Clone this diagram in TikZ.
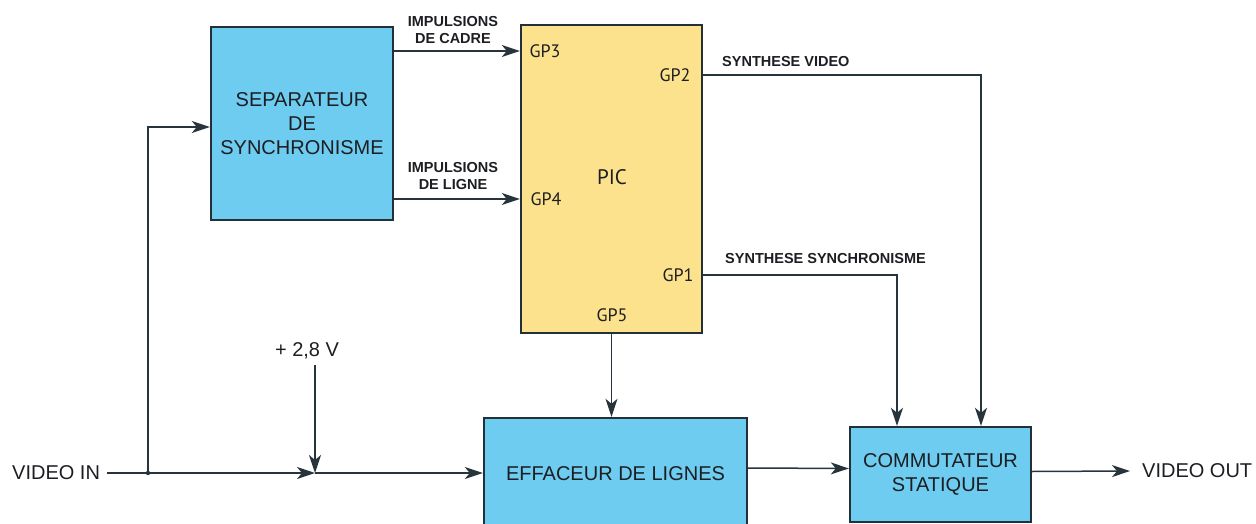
\documentclass[tikz,border=0pt]{standalone}
\usepackage{fontspec}
\setmainfont{Liberation Sans}
\newfontfamily\gpfont{PT Sans}
\usetikzlibrary{arrows.meta,positioning}

\definecolor{boxblue}{RGB}{110,204,240}
\definecolor{boxyellow}{RGB}{252,226,140}
\definecolor{edgecol}{RGB}{35,48,55}
\definecolor{wirecol}{RGB}{40,52,60}
\definecolor{inkcol}{RGB}{28,30,34}

\tikzset{
  block/.style={draw=edgecol,line width=2.4pt,align=center,inner sep=2pt,
    text=inkcol,font=\fontsize{20}{24}\selectfont},
  bluebox/.style={block,fill=boxblue},
  picbox/.style={block,fill=boxyellow},
  wire/.style={draw=wirecol,line width=1.5pt},
  arr/.style={wire,-{Stealth[length=18pt,width=12pt,inset=5pt]}},
  sig/.style={inner sep=0pt,align=center,text=inkcol,
    font=\bfseries\fontsize{14.5}{17}\selectfont},
  pin/.style={inner sep=0pt,text=inkcol,font=\gpfont\fontsize{18}{20}\selectfont},
  io/.style={inner sep=0pt,text=inkcol,font=\fontsize{20}{24}\selectfont}
}

\begin{document}
\begin{tikzpicture}[x=1pt,y=-1pt]
\useasboundingbox (0,0) rectangle (1256,524);
\clip (0,0) rectangle (1256,524);

% blocs
\node[bluebox,minimum width=182pt,minimum height=193pt] (sep) at (302,123.5)
  {SEPARATEUR\\DE\\SYNCHRONISME};
\node[picbox,minimum width=181pt,minimum height=308pt] (pic) at (611.5,179) {};
\node[inner sep=0pt,text=inkcol,font=\gpfont\fontsize{21}{24}\selectfont] (picname) at (612,177) {PIC};
\node[bluebox,minimum width=263pt,minimum height=112pt] (eff) at (615.5,474)
  {EFFACEUR DE LIGNES};
\node[bluebox,minimum width=181pt,minimum height=95pt] (com) at (940.5,474.5)
  {COMMUTATEUR\\STATIQUE};

% broches du PIC
\node[pin] (gp3) at (545,51) {GP3};
\node[pin] (gp4) at (546,199) {GP4};
\node[pin] (gp2) at (675,75) {GP2};
\node[pin] (gp1) at (678,275) {GP1};
\node[pin] (gp5) at (612,315) {GP5};

% textes
\node[sig] (cadre) at (453,30.5) {IMPULSIONS\\DE CADRE};
\node[sig] (ligne) at (453,176) {IMPULSIONS\\DE LIGNE};
\node[sig,anchor=west] (synvid) at (722,62) {SYNTHESE VIDEO};
\node[sig,anchor=west] (synsync) at (725,259) {SYNTHESE SYNCHRONISME};
\node[io] (vref) at (307,351) {+ 2,8 V};
\node[io,anchor=west] (vin) at (12,473) {VIDEO IN};
\node[io,anchor=west] (vout) at (1142,471) {VIDEO OUT};
\coordinate (split) at (148,473);
\coordinate (sum) at (315,473);

% liaisons
\draw[arr] (sep.east |- gp3) -- (pic.west |- gp3);
\draw[arr] (sep.east |- gp4) -- (pic.west |- gp4);
\draw[wire] (vin.east) ++(7,0) -- (split);
\fill[wirecol] (split) circle (2.2pt);
\draw[arr] (split) |- ([yshift=-3.5pt]sep.west);
\draw[arr] (split) -- (sum);
\draw[arr] (vref.south -| sum) ++(0,6) -- (sum);
\draw[arr] (sum) -- (sum -| eff.west);
\draw[arr] (pic.south) -- (pic.south |- eff.north);
\draw[arr] (pic.east |- gp2) -| ([xshift=40.5pt]com.north);
\draw[arr] (pic.east |- gp1) -| ([xshift=-43.5pt]com.north);
\draw[arr] ([yshift=6pt]eff.east) -- ([yshift=6pt]com.west);
\draw[arr] ([yshift=3pt]com.east) -- ([xshift=-12pt]vout.west);
\end{tikzpicture}
\end{document}
